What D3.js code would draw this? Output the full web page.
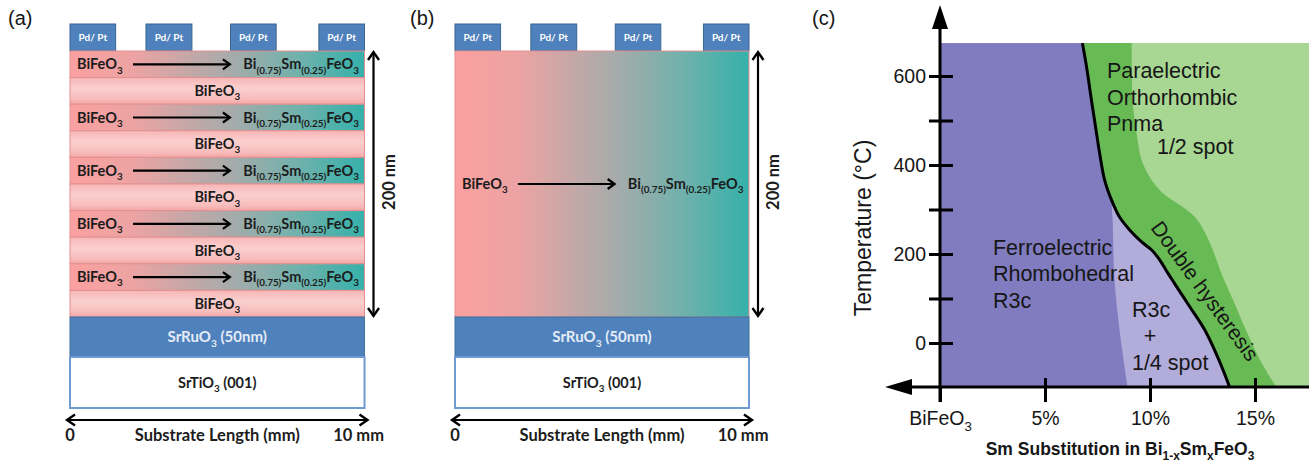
<!DOCTYPE html>
<html>
<head>
<meta charset="utf-8">
<script src="https://cdn.jsdelivr.net/npm/d3@7"></script>
<style>
  body { margin: 0; background: #fff; }
  svg { display: block; }
</style>
</head>
<body>
<svg id="fig" width="1309" height="463"></svg>
<script>
// ---------------- data ----------------
// Pd/Pt top electrodes, start/end along the 10 mm substrate
const padSpansMm = [[0, 1.55], [2.58, 4.14], [5.45, 7.0], [8.45, 10]];
// superlattice sequence, top to bottom (graded = BiFeO3 -> Bi0.75Sm0.25FeO3)
const superlattice = ["graded", "plain", "graded", "plain", "graded", "plain", "graded", "plain", "graded", "plain"];
const formulaParent = [["BiFeO"], ["3", 1]];
const formulaEnd = [["Bi"], ["(0.75)", 1], ["Sm"], ["(0.25)", 1], ["FeO"], ["3", 1]];
const srRuO3Label = [["SrRuO"], ["3", 1], [" (50nm)"]];
const srTiO3Label = [["SrTiO"], ["3", 1], [" (001)"]];
const lengthLabels = ["0", "Substrate Length (mm)", "10 mm"];
const thicknessLabel = "200 nm";
const panelLabels = ["(a)", "(b)", "(c)"];

// phase diagram: composition (% Sm) vs temperature (°C)
const compTicks = [0, 5, 10, 15];
const compTickLabels = ["BiFeO3", "5%", "10%", "15%"];
const tempTicks = [0, 100, 200, 300, 400, 500, 600];
const tempLabels = [0, 200, 400, 600];
// ferroelectric R3c / paraelectric Pnma boundary
const paraBoundary = [
  [6.78, 674], [6.98, 620], [7.21, 546], [7.41, 485], [7.60, 427], [7.84, 366],
  [8.17, 321], [8.55, 283], [9.03, 254], [9.60, 227], [10.08, 209], [10.46, 187],
  [10.85, 157], [11.18, 133], [11.90, 81], [12.61, 29], [13.28, -38], [13.79, -99]
];
// outer edge of the double-hysteresis band
const hysteresisEdge = [
  [9.13, 674], [9.17, 546], [9.36, 472], [9.60, 411], [10.08, 366], [10.70, 333],
  [11.42, 310], [12.14, 283], [12.61, 249], [12.99, 209], [13.43, 153], [13.95, 97],
  [14.57, 29], [15.24, -38], [16.01, -99]
];
// edge of the R3c + 1/4 spot region
const mixedEdge = [[8.17, 321], [8.22, 276], [8.31, 142], [8.55, 29], [8.93, -99]];
const compRange = [0, 17.6];
const tempRange = [-99, 674];

const paraLabel = ["Paraelectric", "Orthorhombic", "Pnma"];
const ferroLabel = ["Ferroelectric", "Rhombohedral", "R3c"];
const mixedLabel = ["R3c", "+", "1/4 spot"];
const halfSpotLabel = "1/2 spot";
const bandLabel = "Double hysteresis";

// ---------------- styling ----------------
const SCH = "Lato, 'Open Sans', sans-serif";
const ARIAL = "'Liberation Sans', Arial, sans-serif";
const svg = d3.select("#fig");
const defs = svg.append("defs");

const gradH = defs.append("linearGradient").attr("id", "graded").attr("x1", 0).attr("x2", 1).attr("y1", 0).attr("y2", 0);
[[0, "#fba0a0"], [0.22, "#eca3a3"], [0.52, "#acaaaa"], [0.76, "#74b1ac"], [1, "#35b1aa"]]
  .forEach(([o, c]) => gradH.append("stop").attr("offset", o).attr("stop-color", c));
const gradP = defs.append("linearGradient").attr("id", "pink").attr("x1", 0).attr("x2", 0).attr("y1", 0).attr("y2", 1);
[[0, "#f7b6b6"], [0.4, "#fbcfcf"], [0.8, "#f8bdbd"], [1, "#f3a5a5"]]
  .forEach(([o, c]) => gradP.append("stop").attr("offset", o).attr("stop-color", c));

// chemical formula with subscripts
function addChem(text, segs, fs) {
  const off = fs * 0.3;
  let low = false;
  segs.forEach(([s, sub]) => {
    const t = text.append("tspan").text(s);
    if (sub) {
      t.attr("font-size", fs * 0.68);
      if (!low) { t.attr("dy", off); low = true; }
    } else if (low) { t.attr("dy", -off); low = false; }
  });
  return text;
}

function chevron(g, tx, ty, dir, len, half, w) {
  // dir: unit vector the arrow points to
  const [dx, dy] = dir;
  const bx = tx - dx * len, by = ty - dy * len;
  const px = -dy * half, py = dx * half;
  g.append("path")
    .attr("d", `M${bx + px},${by + py}L${tx},${ty}L${bx - px},${by - py}`)
    .attr("fill", "none").attr("stroke", "#000").attr("stroke-width", w)
    .attr("stroke-linejoin", "miter").attr("stroke-linecap", "butt");
}

// ---------------- panels (a) and (b): device stacks ----------------
const stackY = { pads: [24, 51], film: [51, 317], srRuO3: [317, 357], srTiO3: [357, 408] };

function device(x0, x1, layered) {
  const g = svg.append("g");
  const x = d3.scaleLinear([0, 10], [x0, x1]);
  const rows = d3.scaleBand(d3.range(superlattice.length), stackY.film);

  // electrodes
  const pads = g.selectAll(".pad").data(padSpansMm).join("g");
  pads.append("rect")
    .attr("x", d => x(d[0])).attr("width", d => x(d[1]) - x(d[0]))
    .attr("y", stackY.pads[0]).attr("height", stackY.pads[1] - stackY.pads[0])
    .attr("fill", "#4f81bd").attr("stroke", "#3a6593").attr("stroke-width", 1);
  pads.append("text")
    .attr("x", d => x((d[0] + d[1]) / 2)).attr("y", (stackY.pads[0] + stackY.pads[1]) / 2 + 3.5)
    .attr("text-anchor", "middle").attr("font-family", SCH).attr("font-weight", 700)
    .attr("font-size", 10).attr("fill", "#fff").text("Pd/ Pt");

  function gradedRow(yTop, h) {
    g.append("rect").attr("x", x(0)).attr("width", x(10) - x(0)).attr("y", yTop).attr("height", h)
      .attr("fill", "url(#graded)").attr("stroke", "#e39090").attr("stroke-width", 1);
    const yc = yTop + h / 2;
    addChem(g.append("text").attr("x", x(0.24)).attr("y", yc + 5)
      .attr("font-family", SCH).attr("font-weight", 700).attr("font-size", 14.5).attr("fill", "#1c1c1c"),
      formulaParent, 14.5);
    g.append("line").attr("x1", x(2.14)).attr("x2", x(5.38)).attr("y1", yc).attr("y2", yc)
      .attr("stroke", "#000").attr("stroke-width", 2.2);
    chevron(g, x(5.43), yc, [1, 0], 7, 5, 2.2);
    addChem(g.append("text").attr("x", x(9.81)).attr("y", yc + 5).attr("text-anchor", "end")
      .attr("font-family", SCH).attr("font-weight", 700).attr("font-size", 14.5).attr("fill", "#1c1c1c"),
      formulaEnd, 14.5);
  }

  if (layered) {
    superlattice.forEach((kind, i) => {
      const yTop = rows(i), h = rows.bandwidth();
      if (kind === "graded") gradedRow(yTop, h);
      else {
        g.append("rect").attr("x", x(0)).attr("width", x(10) - x(0)).attr("y", yTop).attr("height", h)
          .attr("fill", "url(#pink)").attr("stroke", "#e39090").attr("stroke-width", 1);
        addChem(g.append("text").attr("x", x(5)).attr("y", yTop + h / 2 + 5).attr("text-anchor", "middle")
          .attr("font-family", SCH).attr("font-weight", 700).attr("font-size", 14.5).attr("fill", "#1c1c1c"),
          formulaParent, 14.5);
      }
    });
  } else {
    gradedRow(stackY.film[0], stackY.film[1] - stackY.film[0]);
  }

  // buffer electrode and substrate
  g.append("rect").attr("x", x(0)).attr("width", x(10) - x(0))
    .attr("y", stackY.srRuO3[0]).attr("height", stackY.srRuO3[1] - stackY.srRuO3[0])
    .attr("fill", "#4f81bd").attr("stroke", "#41719c").attr("stroke-width", 1);
  addChem(g.append("text").attr("x", x(5)).attr("y", (stackY.srRuO3[0] + stackY.srRuO3[1]) / 2 + 5)
    .attr("text-anchor", "middle").attr("font-family", SCH).attr("font-weight", 700)
    .attr("font-size", 15).attr("fill", "#e4ecf6"), srRuO3Label, 15);
  g.append("rect").attr("x", x(0)).attr("width", x(10) - x(0))
    .attr("y", stackY.srTiO3[0]).attr("height", stackY.srTiO3[1] - stackY.srTiO3[0])
    .attr("fill", "#fff").attr("stroke", "#6f9bd2").attr("stroke-width", 2);
  addChem(g.append("text").attr("x", x(5)).attr("y", (stackY.srTiO3[0] + stackY.srTiO3[1]) / 2 + 5)
    .attr("text-anchor", "middle").attr("font-family", SCH).attr("font-weight", 700)
    .attr("font-size", 14.5).attr("fill", "#1c1c1c"), srTiO3Label, 14.5);

  // substrate length double arrow
  const ya = 420;
  g.append("line").attr("x1", x(0) - 2).attr("x2", x(10) + 2).attr("y1", ya).attr("y2", ya)
    .attr("stroke", "#000").attr("stroke-width", 2.2);
  chevron(g, x(0) - 3, ya, [-1, 0], 8, 5.5, 2.4);
  chevron(g, x(10) + 3, ya, [1, 0], 8, 5.5, 2.4);
  [0, 5, 9.8].forEach((mm, i) => {
    g.append("text").attr("x", x(mm)).attr("y", 441).attr("text-anchor", "middle")
      .attr("font-family", SCH).attr("font-weight", 700).attr("font-size", 16.5).attr("fill", "#1c1c1c")
      .text(lengthLabels[i]);
  });

  // film thickness double arrow
  const xv = x(10) + 9;
  g.append("line").attr("x1", xv).attr("x2", xv).attr("y1", stackY.film[0] + 2).attr("y2", stackY.film[1] - 2)
    .attr("stroke", "#000").attr("stroke-width", 2.2);
  chevron(g, xv, stackY.film[0] + 1, [0, -1], 8, 5.5, 2.4);
  chevron(g, xv, stackY.film[1] - 1, [0, 1], 8, 5.5, 2.4);
  g.append("text").attr("transform", `translate(${xv + 21},${(stackY.film[0] + stackY.film[1]) / 2 - 2}) rotate(-90)`)
    .attr("text-anchor", "middle").attr("font-family", SCH).attr("font-weight", 700)
    .attr("font-size", 16.5).attr("fill", "#1c1c1c").text(thicknessLabel);
}

device(70, 364.5, true);
device(455, 749, false);

// ---------------- panel (c): phase diagram ----------------
const gc = svg.append("g");
const cx = d3.scaleLinear([0, 15], [940, 1255]);
const cy = d3.scaleLinear([0, 600], [343, 76]);
const plotLeft = cx(compRange[0]), plotRight = cx(compRange[1]);
const plotTop = cy(tempRange[1]), plotBottom = cy(tempRange[0]);

defs.append("clipPath").attr("id", "plotClip").append("rect")
  .attr("x", plotLeft).attr("y", plotTop).attr("width", plotRight - plotLeft).attr("height", plotBottom - plotTop);
const plot = gc.append("g").attr("clip-path", "url(#plotClip)");

const curve = d3.line().x(d => cx(d[0])).y(d => cy(d[1])).curve(d3.curveCatmullRom.alpha(0.5));
const rightSide = `L${plotRight + 5},${plotBottom + 5}L${plotRight + 5},${plotTop - 5}Z`;

plot.append("rect").attr("x", plotLeft).attr("y", plotTop).attr("width", plotRight - plotLeft).attr("height", plotBottom - plotTop)
  .attr("fill", "#807cbf");
plot.append("path")
  .attr("d", curve(mixedEdge) + `L${cx(15)},${plotBottom + 5}L${cx(12)},${cy(321)}Z`)
  .attr("fill", "#b2acda");
plot.append("path").attr("d", curve(paraBoundary) + rightSide).attr("fill", "#68bb54");
plot.append("path").attr("d", curve(hysteresisEdge) + rightSide).attr("fill", "#a8d693");
plot.append("path").attr("d", curve(paraBoundary)).attr("fill", "none")
  .attr("stroke", "#000").attr("stroke-width", 3);

// region labels
function lines(arr, xv, yBase, step, anchor) {
  arr.forEach((s, i) => {
    gc.append("text").attr("x", xv).attr("y", yBase + i * step).attr("text-anchor", anchor || "start")
      .attr("font-family", ARIAL).attr("font-size", 21.5).attr("fill", "#161616").text(s);
  });
}
lines(paraLabel, cx(7.95), cy(595), 26.5);
lines([halfSpotLabel], cx(10.33), cy(425), 0);
lines(ferroLabel, cx(2.52), cy(198), 26.5);
lines([mixedLabel[0]], cx(9.14), cy(58), 0);
lines([mixedLabel[1]], cx(10.0), cy(0), 0, "middle");
lines([mixedLabel[2]], cx(9.14), cy(-61), 0);
gc.append("text")
  .attr("transform", `translate(${cx(12.62)},${cy(117)}) rotate(54)`)
  .attr("text-anchor", "middle").attr("dy", "0.35em")
  .attr("font-family", ARIAL).attr("font-size", 21).attr("fill", "#161616").text(bandLabel);

// axes
const yAxis = d3.axisLeft(cy).tickValues(tempTicks)
  .tickFormat(d => tempLabels.includes(d) ? d : "").tickSizeOuter(0).tickSizeInner(11).tickPadding(3);
gc.append("g").attr("transform", `translate(${cx(0)},0)`).call(yAxis)
  .call(g => g.select(".domain").remove())
  .call(g => g.selectAll(".tick line").attr("x1", 13).attr("x2", -11).attr("stroke", "#000").attr("stroke-width", 3))
  .call(g => g.selectAll(".tick text").attr("font-family", ARIAL).attr("font-size", 19.5).attr("fill", "#161616"));

const xAxis = d3.axisBottom(cx).tickValues(compTicks)
  .tickFormat((d, i) => compTickLabels[i]).tickSizeOuter(0).tickSizeInner(15).tickPadding(9);
gc.append("g").attr("transform", `translate(0,${plotBottom})`).call(xAxis)
  .call(g => g.select(".domain").remove())
  .call(g => g.selectAll(".tick line").attr("y1", d => d === 0 ? 0 : -9).attr("y2", 15)
    .attr("stroke", "#000").attr("stroke-width", 3))
  .call(g => g.selectAll(".tick text").attr("font-family", ARIAL).attr("font-size", 19.5).attr("fill", "#161616"))
  .call(g => g.selectAll(".tick text").filter(d => d === 0).each(function () {
    const t = d3.select(this).text(null);
    addChem(t, formulaParent, 19.5);
  }));

// axis lines with arrowheads
gc.append("line").attr("x1", cx(0)).attr("x2", cx(0)).attr("y1", 26).attr("y2", plotBottom + 15)
  .attr("stroke", "#000").attr("stroke-width", 3);
gc.append("path").attr("d", `M${cx(0)},5L${cx(0) + 8},29L${cx(0) - 8},29Z`).attr("fill", "#000");
gc.append("line").attr("x1", 910).attr("x2", 1309).attr("y1", plotBottom).attr("y2", plotBottom)
  .attr("stroke", "#000").attr("stroke-width", 3);
gc.append("path").attr("d", `M885,${plotBottom}L912,${plotBottom - 8}L912,${plotBottom + 8}Z`).attr("fill", "#000");

// axis titles
gc.append("text").attr("transform", `translate(871,228) rotate(-90)`).attr("text-anchor", "middle")
  .attr("font-family", ARIAL).attr("font-size", 23).attr("fill", "#161616").text("Temperature (°C)");
addChem(gc.append("text").attr("x", 1120).attr("y", 455).attr("text-anchor", "middle")
  .attr("font-family", ARIAL).attr("font-weight", 700).attr("font-size", 17.5).attr("fill", "#161616"),
  [["Sm Substitution in Bi"], ["1-x", 1], ["Sm"], ["x", 1], ["FeO"], ["3", 1]], 17.5);

// panel letters
[[8, panelLabels[0]], [410, panelLabels[1]], [812, panelLabels[2]]].forEach(([px, s]) => {
  svg.append("text").attr("x", px).attr("y", 25).attr("font-family", ARIAL).attr("font-size", 20)
    .attr("fill", "#161616").text(s);
});
</script>
</body>
</html>
